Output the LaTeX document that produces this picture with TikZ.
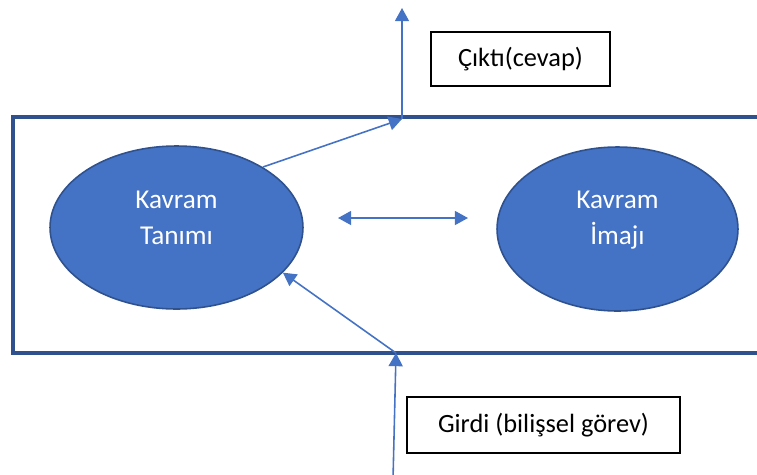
\documentclass[tikz,border=0pt]{standalone}
\usepackage{fontspec}
\setmainfont{Carlito}
\usetikzlibrary{calc,shapes.geometric,arrows.meta}
\definecolor{officeblue}{HTML}{4472C4}
\definecolor{frameblue}{HTML}{2F528F}
\def\drawarrow{\draw[color=officeblue, line width=0.9pt, -{Triangle[length=7.5pt,width=8pt]}]}
\def\conceptnode{\node[ellipse,draw=frameblue,line width=0.9pt,fill=officeblue,inner sep=0pt]}
\def\labelnode{\node[draw=black,line width=0.9pt,fill=white,inner sep=0pt,font=\fontsize{15}{18}\selectfont]}

\begin{document}
\begin{tikzpicture}[x=0.02cm,y=-0.02cm,baseline=(current  bounding  box.center)]
\clip (0,0) rectangle (757,474);
% outer frame, it runs off the right edge
\draw[color=frameblue, line width=2pt] (13,117) rectangle (800,353);

% ---------- the two concepts
\conceptnode[minimum width=5.06cm, minimum height=3.26cm] (tanim) at (176.5,227.5) {};
\conceptnode[minimum width=4.82cm, minimum height=3.28cm] (imaj) at (617.5,229) {};
\node[text=white, align=center, inner sep=0pt, font=\fontsize{15.5}{20.4}\selectfont] (tanimtext) at ($ (tanim.center) + (0,-10) $) {Kavram\\Tanımı};
\node[text=white, align=center, inner sep=0pt, font=\fontsize{15.5}{20.4}\selectfont] (imajtext) at ($ (imaj.center) + (0,-9) $) {Kavram\\İmajı};

% link between them
\coordinate (linkl) at (338,218);
\coordinate (linkr) at (468,218);
\draw[color=officeblue, line width=0.9pt, {Triangle[length=7.5pt,width=8pt]}-{Triangle[length=7.5pt,width=8pt]}] (linkl) -- (linkr);

% ---------- output, top
\coordinate (outbase) at (402,119); % where the output leaves the frame
\coordinate (outtip) at (402,8);
\drawarrow (tanim.35) -- (outbase);
\drawarrow (outbase) -- (outtip);
\labelnode[minimum width=3.58cm, minimum height=1.08cm] (cikti) at (520.5,59) {Çıktı(cevap)};

% ---------- input, bottom
\coordinate (inbase) at (396,353); % where the input enters the frame
\coordinate (inbottom) at (393,480);
\drawarrow (inbottom) -- (inbase);
\drawarrow (inbase) -- (tanim.-23);
\labelnode[minimum width=5.46cm, minimum height=1.12cm] (girdi) at (543.5,425) {Girdi (bilişsel görev)};
\end{tikzpicture}
\end{document}
